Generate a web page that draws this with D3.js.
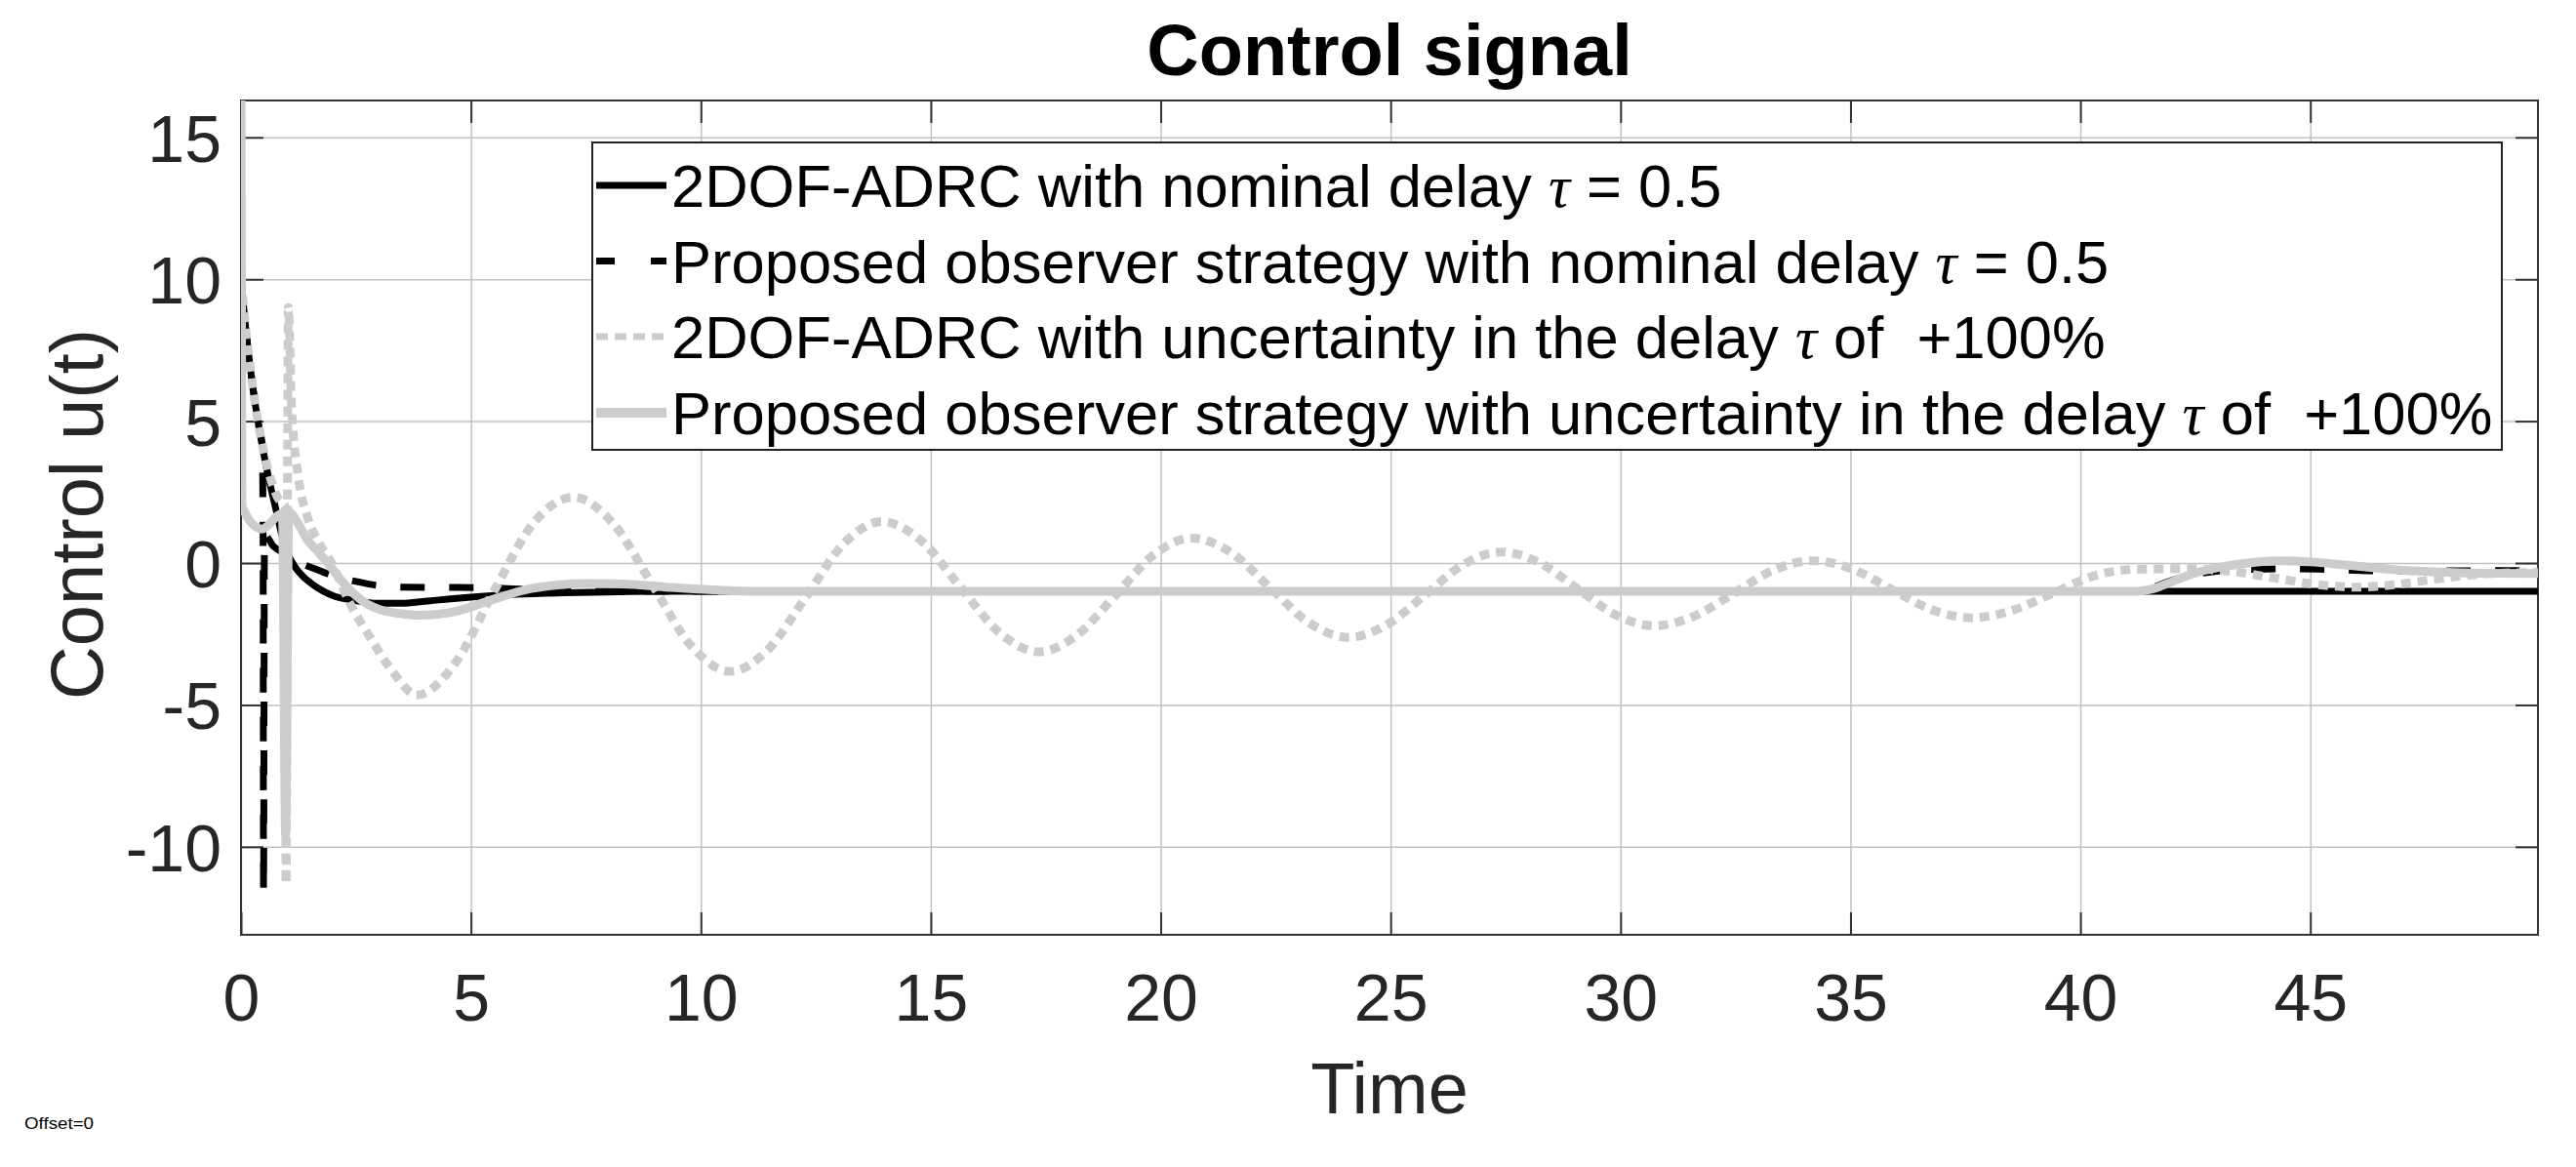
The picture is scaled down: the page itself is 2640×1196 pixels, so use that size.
<!DOCTYPE html>
<html>
<head>
<meta charset="utf-8">
<script src="https://cdn.jsdelivr.net/npm/d3@7"></script>
<style>
  html, body { margin: 0; padding: 0; background: #fff; }
  svg { display: block; }
  text { font-family: "Liberation Sans", Arial, Helvetica, sans-serif; }
</style>
</head>
<body>
<svg id="chart" width="2640" height="1196"></svg>
<script>
// ---------------- DATA ----------------
const xTicks = [0, 5, 10, 15, 20, 25, 30, 35, 40, 45];
const yTicks = [-10, -5, 0, 5, 10, 15];
const xDomain = [0, 49.95];
const yDomain = [-13.1, 16.3];

const titleText = "Control signal";
const xLabel = "Time";
const yLabel = "Control u(t)";
const footnote = "Offset=0";

const legendLabels = [
  "2DOF-ADRC with nominal delay τ = 0.5",
  "Proposed observer strategy with nominal delay τ = 0.5",
  "2DOF-ADRC with uncertainty in the delay τ of  +100%",
  "Proposed observer strategy with uncertainty in the delay τ of  +100%"
];

// 2DOF-ADRC, nominal delay (black solid)
const adrcNominal = [
  [0, 10], [0.1, 8.3], [0.2, 6.9], [0.3, 5.7], [0.4, 4.7], [0.5, 3.8], [0.6, 3.0],
  [0.7, 2.3], [0.8, 1.6], [0.9, 0.9], [1.0, 0.4], [1.2, -0.2], [1.4, -0.55],
  [1.6, -0.8], [1.8, -1.0], [2.0, -1.15], [2.4, -1.3], [3.0, -1.42], [3.5, -1.42],
  [4.0, -1.35], [4.5, -1.27], [5.0, -1.2], [6.0, -1.1], [7.0, -1.05], [8.0, -1.02],
  [9.0, -1.0], [20, -1.0], [30, -1.0], [41.2, -1.0], [49.95, -1.0]
];

// Proposed observer strategy, nominal delay (black dashed)
const observerNominal = [
  [0, 10], [0.1, 8.3], [0.2, 6.9], [0.3, 5.7], [0.4, 4.7], [0.46, 4.2],
  [0.48, 1.1], [0.49, -11.6], [0.51, 1.0], [0.7, 0.6], [1.0, 0.3], [1.3, 0.0],
  [1.6, -0.2], [2.0, -0.45], [2.5, -0.65], [3.0, -0.8], [3.5, -0.85], [4.5, -0.86],
  [5.5, -0.88], [6.5, -0.95], [8.0, -1.0], [20, -1.0], [30, -1.0], [41.3, -1.0],
  [41.6, -0.85], [42.0, -0.6], [42.5, -0.4], [43.0, -0.28], [43.8, -0.22],
  [44.5, -0.2], [45.3, -0.22], [46.3, -0.27], [47.5, -0.28], [48.5, -0.27], [49.95, -0.26]
];

// 2DOF-ADRC, +100% delay uncertainty (gray dotted)
const adrcUncertain = [
  [0, 10], [0.1, 8.3], [0.2, 6.9], [0.3, 5.7], [0.4, 4.7], [0.5, 3.9], [0.6, 3.2],
  [0.7, 2.7], [0.8, 2.3], [0.9, 2.1], [0.96, 2.0], [0.98, -11.3], [1.03, 9.0],
  [1.1, 5.5], [1.25, 3.0], [1.45, 1.6], [1.7, 0.7], [1.97, 0.0], [2.35, -1.36],
  [2.82, -2.65], [3.3, -3.83], [3.82, -4.65], [4.67, -3.5], [5.53, -0.9], [6.38, 1.45],
  [7.23, 2.32], [8.08, 1.42], [8.94, -0.75], [9.79, -2.92], [10.64, -3.82],
  [11.46, -3.05], [12.29, -1.18], [13.11, 0.69], [13.93, 1.46], [14.79, 0.79],
  [15.64, -0.84], [16.5, -2.46], [17.35, -3.13], [18.18, -2.54], [19.02, -1.13],
  [19.85, 0.29], [20.68, 0.88], [21.53, 0.37], [22.38, -0.87], [23.23, -2.11],
  [24.08, -2.62], [24.91, -2.18], [25.75, -1.12], [26.58, -0.05], [27.41, 0.39],
  [28.24, 0.01], [29.07, -0.91], [29.9, -1.83], [30.73, -2.21], [31.59, -1.88],
  [32.46, -1.07], [33.32, -0.25], [34.18, 0.08], [35.04, -0.21], [35.9, -0.93],
  [36.76, -1.64], [37.62, -1.93], [38.5, -1.68], [39.4, -1.07], [40.3, -0.45],
  [41.2, -0.22], [42.3, -0.2], [43.3, -0.3], [44.2, -0.52], [45.1, -0.75],
  [46.0, -0.85], [46.9, -0.75], [47.8, -0.55], [48.8, -0.38], [49.95, -0.33]
];

// Proposed observer strategy, +100% delay uncertainty (gray solid)
const observerUncertain = [
  [0, 17], [0.02, 2.0], [0.45, 1.2], [0.9, 1.75], [0.97, -9.6], [1.04, 1.8],
  [1.2, 1.5], [1.44, 0.83], [1.7, 0.35], [1.93, -0.09], [2.15, -0.55], [2.41, -1.01],
  [2.7, -1.4], [3.02, -1.64], [3.45, -1.78], [3.87, -1.84], [4.48, -1.76], [4.9, -1.6],
  [5.34, -1.36], [5.8, -1.12], [6.31, -0.9], [6.9, -0.77], [7.53, -0.72], [8.15, -0.73],
  [8.75, -0.78], [9.35, -0.86], [9.97, -0.92], [10.6, -0.97], [11.2, -1.0], [20, -1.0],
  [30, -1.0], [41.2, -1.0], [41.6, -0.9], [42.0, -0.65], [42.6, -0.3], [43.2, -0.1],
  [43.8, 0.03], [44.4, 0.08], [45.0, 0.04], [45.7, -0.06], [46.4, -0.17], [47.05, -0.26],
  [47.8, -0.32], [48.8, -0.36], [49.95, -0.37]
];

// ---------------- LAYOUT / STYLE ----------------
const W = 2640, H = 1196;
const plot = { left: 247, right: 2601, top: 103, bottom: 958 };
const axisColor = "#333333";
const textColor = "#262626";
const gray = "#cccccc";

const svg = d3.select("#chart");
svg.append("rect").attr("width", W).attr("height", H).attr("fill", "#fff");

const x = d3.scaleLinear().domain(xDomain).range([plot.left, plot.right]);
const y = d3.scaleLinear().domain(yDomain).range([plot.bottom, plot.top]);
const pH = plot.bottom - plot.top, pW = plot.right - plot.left;
const fmt = d => String(d); // plain hyphen-minus like the reference

// clip
svg.append("defs").append("clipPath").attr("id", "plotClip")
  .append("rect").attr("x", plot.left).attr("y", plot.top).attr("width", pW).attr("height", pH);

// grid
const gridX = svg.append("g").attr("transform", `translate(0,${plot.bottom})`)
  .call(d3.axisBottom(x).tickValues(xTicks).tickSize(-pH).tickFormat(""));
const gridY = svg.append("g").attr("transform", `translate(${plot.left},0)`)
  .call(d3.axisLeft(y).tickValues(yTicks).tickSize(-pW).tickFormat(""));
[gridX, gridY].forEach(g => {
  g.select(".domain").remove();
  g.selectAll(".tick line").attr("stroke", "#c2c2c2").attr("stroke-width", 1.5);
});

// axes with labels (inward ticks)
const tickLen = 23;
const xAxisB = svg.append("g").attr("transform", `translate(0,${plot.bottom})`)
  .call(d3.axisBottom(x).tickValues(xTicks).tickSize(-tickLen).tickPadding(40).tickFormat(fmt));
const xAxisT = svg.append("g").attr("transform", `translate(0,${plot.top})`)
  .call(d3.axisTop(x).tickValues(xTicks).tickSize(-tickLen).tickFormat(""));
const yAxisL = svg.append("g").attr("transform", `translate(${plot.left},0)`)
  .call(d3.axisLeft(y).tickValues(yTicks).tickSize(-tickLen).tickPadding(20).tickFormat(fmt));
const yAxisR = svg.append("g").attr("transform", `translate(${plot.right},0)`)
  .call(d3.axisRight(y).tickValues(yTicks).tickSize(-tickLen).tickFormat(""));
[xAxisB, xAxisT, yAxisL, yAxisR].forEach(g => {
  g.select(".domain").remove();
  g.selectAll(".tick line").attr("stroke", axisColor).attr("stroke-width", 2);
  g.selectAll(".tick text").attr("fill", textColor).attr("font-size", 68)
    .attr("font-family", '"Liberation Sans", Arial, sans-serif');
});
yAxisL.selectAll(".tick text").attr("dy", "0.36em");
// box
svg.append("rect").attr("x", plot.left).attr("y", plot.top).attr("width", pW).attr("height", pH)
  .attr("fill", "none").attr("stroke", axisColor).attr("stroke-width", 2);

// series
const line = d3.line().x(d => x(d[0])).y(d => y(d[1])).curve(d3.curveMonotoneX);
const series = [
  { data: adrcNominal, color: "#000", width: 7, dash: null },
  { data: observerNominal, color: "#000", width: 7, dash: "25,25" },
  { data: adrcUncertain, color: gray, width: 9, dash: "10,7" },
  { data: observerUncertain, color: gray, width: 9, dash: null }
];
const gLines = svg.append("g").attr("clip-path", "url(#plotClip)");
series.forEach(s => {
  gLines.append("path").datum(s.data).attr("d", line)
    .attr("fill", "none").attr("stroke", s.color).attr("stroke-width", s.width)
    .attr("stroke-dasharray", s.dash).attr("stroke-linejoin", "round");
});

// legend
const leg = { left: 607, top: 146, right: 2564, bottom: 461 };
svg.append("rect").attr("x", leg.left).attr("y", leg.top)
  .attr("width", leg.right - leg.left).attr("height", leg.bottom - leg.top)
  .attr("fill", "#fff").attr("stroke", "#222").attr("stroke-width", 2);
const rowBase = [212, 289.5, 367, 445];
const legendDash = [null, "19,37", "12,7", null];
legendLabels.forEach((lab, i) => {
  const s = series[i];
  const cy = rowBase[i] - 22;
  svg.append("line").attr("x1", 611).attr("x2", 683).attr("y1", cy).attr("y2", cy)
    .attr("stroke", s.color).attr("stroke-width", i === 3 ? 10 : 7)
    .attr("stroke-dasharray", legendDash[i]);
  const t = svg.append("text").attr("x", 688).attr("y", rowBase[i])
    .attr("font-size", 61.5).attr("fill", "#000").style("white-space", "pre");
  const parts = lab.split("τ");
  parts.forEach((p, j) => {
    t.append("tspan").text(p);
    if (j < parts.length - 1) {
      t.append("tspan").attr("font-family", '"Liberation Serif", "Times New Roman", serif')
        .attr("font-style", "italic").text("τ");
    }
  });
});

// title & labels
svg.append("text").attr("x", (plot.left + plot.right) / 2).attr("y", 77)
  .attr("text-anchor", "middle").attr("font-size", 74).attr("font-weight", "bold")
  .attr("fill", "#000").text(titleText);
svg.append("text").attr("x", (plot.left + plot.right) / 2).attr("y", 1141)
  .attr("text-anchor", "middle").attr("font-size", 74).attr("fill", textColor).text(xLabel);
svg.append("text").attr("transform", `translate(105,527) rotate(-90)`)
  .attr("text-anchor", "middle").attr("font-size", 76).attr("fill", textColor).text(yLabel);
svg.append("text").attr("x", 25).attr("y", 1157).attr("font-size", 17)
  .attr("textLength", 71).attr("lengthAdjust", "spacingAndGlyphs")
  .attr("fill", "#000").text(footnote);
</script>
</body>
</html>
